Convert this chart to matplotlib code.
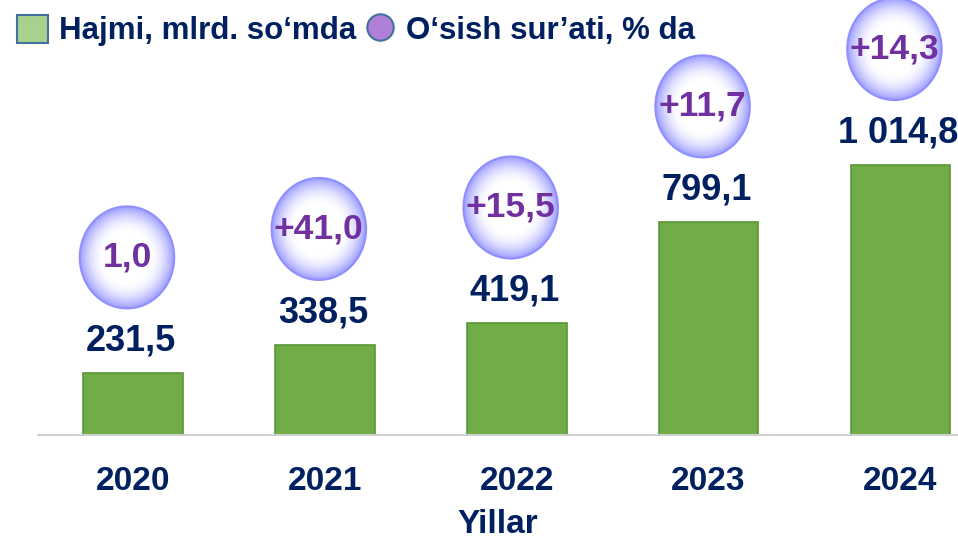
import numpy as np
import matplotlib.pyplot as plt
from matplotlib.path import Path
from matplotlib.transforms import offset_copy
from matplotlib.lines import Line2D
from matplotlib.patches import Rectangle
from matplotlib.colors import to_rgb

plt.rcParams['font.family'] = ['Liberation Sans', 'DejaVu Sans']

years = ['2020', '2021', '2022', '2023', '2024']
volume = [231.5, 338.5, 419.1, 799.1, 1014.8]
volume_labels = ['231,5', '338,5', '419,1', '799,1', '1 014,8']
growth_labels = ['1,0', '+41,0', '+15,5', '+11,7', '+14,3']

navy = '#002060'
purple = '#7030a0'

fig = plt.figure(figsize=(9.58, 5.39), dpi=100)
ax = fig.add_axes([38 / 958, 104 / 539, 920 / 958, 435 / 539])

x = np.arange(len(years))
ax.bar(x, volume, width=0.52, color='#70ad47', edgecolor='#5b9637', linewidth=1.2)

ax.set_xlim(-0.495, 4.30)
ax.set_ylim(0, 1635)
ax.set_yticks([])
for s in ['top', 'left', 'right']:
    ax.spines[s].set_visible(False)
ax.spines['bottom'].set_color('#d0d0d0')
ax.spines['bottom'].set_linewidth(1.5)
ax.set_xticks(x)
ax.set_xticklabels(years, fontsize=24, fontweight='bold', color=navy)
ax.tick_params(axis='x', length=0, pad=22)
ax.set_xlabel('Yillar', fontsize=24, fontweight='bold', color=navy, labelpad=9)

# value labels above bars
for xi, v, lab in zip(x, volume, volume_labels):
    ax.annotate(lab, (xi, v), xytext=(-2, 32), textcoords='offset pixels',
                ha='center', va='center', fontsize=26, fontweight='bold',
                color=navy, annotation_clip=False)

# growth bubbles (slightly tall ellipses with radial gradient)
t = np.linspace(0, 2 * np.pi, 100)
ell = Path(np.column_stack([np.cos(t), 1.08 * np.sin(t)]), closed=True)
bub_tr = offset_copy(ax.transData, fig=fig, x=-6, y=116, units='dots')
edge = np.array(to_rgb('#8f8fff'))
white = np.array([1.0, 1.0, 1.0])
d_out = 102 * 72 / 100  # diameter in points (tallest side)
n = 40
for i in range(n):
    f = 1 - i / n
    mix = np.clip((f - 0.5) / 0.5, 0, 1) ** 1.8
    col = white * (1 - mix) + np.array(to_rgb('#a0a0ff')) * mix
    ax.scatter(x, volume, s=(d_out * f) ** 2, marker=ell, color=col,
               edgecolors='none', transform=bub_tr, clip_on=False, zorder=3)
ax.scatter(x, volume, s=d_out ** 2, marker=ell, facecolors='none',
           edgecolors=edge, linewidths=1.5, transform=bub_tr, clip_on=False, zorder=4)
for xi, v, lab in zip(x, volume, growth_labels):
    ax.annotate(lab, (xi, v), xytext=(-6, 116), textcoords='offset pixels',
                ha='center', va='center', fontsize=25.5, fontweight='bold',
                color=purple, annotation_clip=False, zorder=5)

# legend
handles = [
    Rectangle((0, 0), 1, 1, facecolor='#a9d18e', edgecolor='#41719c', linewidth=1.5),
    Line2D([], [], marker='o', linestyle='none', markersize=19,
           markerfacecolor='#b07fd8', markeredgecolor='#41719c', markeredgewidth=1.5),
]
fig.legend(handles, ['Hajmi, mlrd. so‘mda', 'O‘sish sur’ati, % da'],
           loc='upper left', bbox_to_anchor=(-0.012, 1.025), ncol=2, frameon=False,
           prop={'size': 22.5, 'weight': 'bold'}, labelcolor=navy,
           handlelength=1.0, handleheight=1.0, handletextpad=0.35, columnspacing=0.25)

fig.savefig('out.png', dpi=100)
